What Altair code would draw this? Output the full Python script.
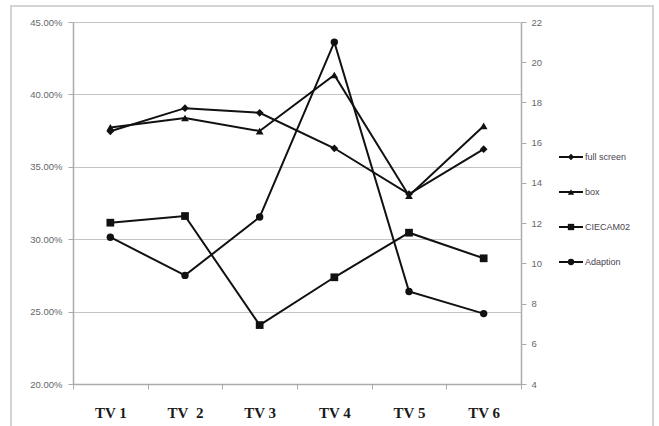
import altair as alt
import pandas as pd

# Categories and series values
tvs = ["TV 1", "TV\u00a0 2", "TV 3", "TV 4", "TV 5", "TV 6"]
full_screen = [0.3745, 0.3905, 0.3873, 0.3628, 0.3312, 0.3622]
box = [0.3772, 0.3837, 0.3747, 0.4134, 0.3300, 0.3782]
ciecam02 = [0.3114, 0.3160, 0.2407, 0.2737, 0.3045, 0.2868]
adaption = [11.3, 9.4, 12.3, 21.0, 8.6, 7.5]

series_names = ["full screen", "box", "CIECAM02", "Adaption"]
shapes = ["diamond", "triangle-up", "square", "circle"]
left_ticks = [0.20, 0.25, 0.30, 0.35, 0.40, 0.45]
right_ticks = [4, 6, 8, 10, 12, 14, 16, 18, 20, 22]

left_df = pd.DataFrame(
    [{"tv": t, "series": s, "value": v}
     for s, vals in zip(series_names[:3], [full_screen, box, ciecam02])
     for t, v in zip(tvs, vals)]
)
right_df = pd.DataFrame({"tv": tvs, "series": "Adaption", "value": adaption})
legend_df = pd.DataFrame({"series": series_names})

W, H = 448, 362
GRID = "#c4c4c4"
AXIS = "#ababab"
LABEL = "#666666"

x_enc = alt.X(
    "tv:N",
    sort=tvs,
    bandPosition=0.5,
    scale=alt.Scale(type="band", domain=tvs, paddingInner=0, paddingOuter=0),
    axis=alt.Axis(
        title=None, tickBand="extent", tickSize=5, tickColor=AXIS,
        domainColor=AXIS, domainWidth=1.5, labelAngle=0,
        labelFont="Liberation Serif", labelFontWeight="bold", labelFontSize=15,
        labelColor="#1a1a1a", labelPadding=16, grid=False,
    ),
)
shape_enc = alt.Shape(
    "series:N",
    scale=alt.Scale(domain=series_names, range=shapes),
    legend=None,
)

left_y = alt.Y(
    "value:Q",
    scale=alt.Scale(domain=[0.20, 0.45], nice=False, zero=False),
    axis=alt.Axis(
        title=None, orient="left", values=left_ticks, format=".2%",
        grid=True, gridColor=GRID, gridWidth=1.2, tickSize=5, tickColor=AXIS,
        domainColor=AXIS, domainWidth=1.5, labelFont="Liberation Sans",
        labelFontSize=9.5, labelColor=LABEL, labelPadding=6,
    ),
)
right_y = alt.Y(
    "value:Q",
    scale=alt.Scale(domain=[4, 22], nice=False, zero=False),
    axis=alt.Axis(
        title=None, orient="right", values=right_ticks, format="d",
        grid=False, tickSize=5, tickColor=AXIS, domainColor=AXIS,
        domainWidth=1.5, labelFont="Liberation Sans", labelFontSize=9.5,
        labelColor=LABEL, labelPadding=5,
    ),
)

left_base = alt.Chart(left_df).encode(x=x_enc, y=left_y, detail="series:N")
left = alt.layer(
    left_base.mark_line(color="#111111", strokeWidth=2),
    left_base.mark_point(filled=True, color="#111111", opacity=1, size=60).encode(shape=shape_enc),
)

right_base = alt.Chart(right_df).encode(x=x_enc, y=right_y, detail="series:N")
right = alt.layer(
    right_base.mark_line(color="#111111", strokeWidth=2),
    right_base.mark_point(filled=True, color="#111111", opacity=1, size=55).encode(shape=shape_enc),
)

# Legend rows and outer frame
leg_y = alt.Y(
    "series:N",
    sort=series_names,
    scale=alt.Scale(type="point", domain=series_names, range=[135, 240], padding=0),
    axis=None,
)
leg_base = alt.Chart(legend_df).encode(y=leg_y)
legend = alt.layer(
    alt.Chart(legend_df).mark_rect(fill=None, stroke="#d4d4d4", strokeWidth=1.5, clip=False).encode(
        x=alt.value(-62), x2=alt.value(580), y=alt.value(-16), y2=alt.value(460)
    ),
    leg_base.mark_rule(color="#111111", strokeWidth=2).encode(x=alt.value(486), x2=alt.value(510)),
    leg_base.mark_point(filled=True, color="#111111", opacity=1, size=40).encode(
        x=alt.value(498), shape=shape_enc
    ),
    leg_base.mark_text(align="left", baseline="middle", font="Liberation Sans",
                       fontSize=9, color="#4a4450").encode(
        x=alt.value(512), text="series:N"
    ),
)

chart = (
    alt.layer(left, right, legend)
    .resolve_scale(y="independent")
    .properties(
        width=W, height=H,
        autosize=alt.AutoSizeParams(type="none"),
        padding={"left": 73, "top": 22, "right": 138, "bottom": 42},
        background="white",
    )
    .configure_view(stroke=None)
)

chart.save("out.html", embed_options={"renderer": "svg", "actions": False})
